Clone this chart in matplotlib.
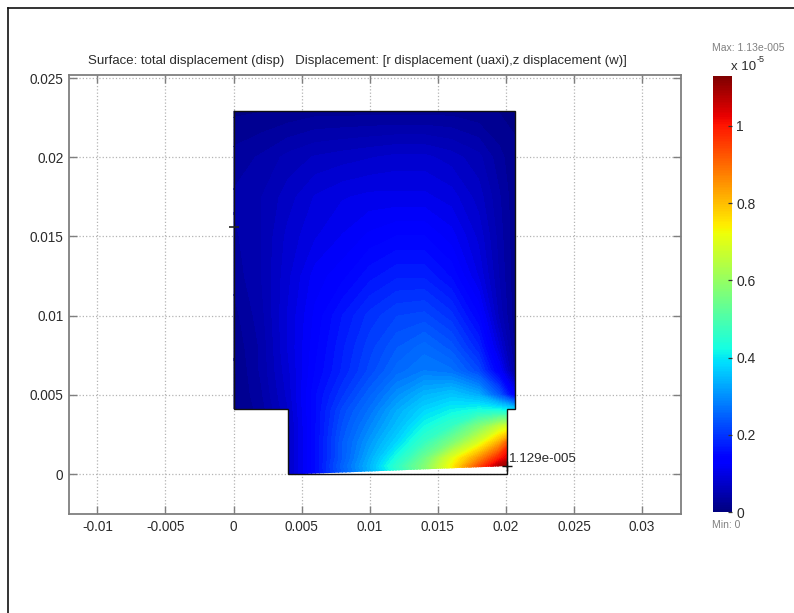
import numpy as np
import matplotlib
matplotlib.use("Agg")
import matplotlib.pyplot as plt
from matplotlib.patches import Polygon
from matplotlib.lines import Line2D

plt.rcParams['font.family'] = ['Liberation Sans', 'DejaVu Sans']

title = "Surface: total displacement (disp)   Displacement: [r displacement (uaxi),z displacement (w)]"

# Surface sample positions (metres)
r_pos = [0, .002, .004, .006, .008, .01, .012, .014, .016, .018, .0195, .0207]
z_pos = [0, .0005, .001, .002, .003, .004, .005, .0065, .008, .01, .0125, .015, .0175, .02, .0229]

disp = [
    [.01, .03, .07, .15, .24, .33, .44, .55, .71, .91, 1.07, 1.129],
    [.01, .03, .07, .15, .25, .34, .46, .57, .73, .93, 1.08, 1.129],
    [.01, .03, .07, .15, .24, .33, .43, .54, .70, .85, .99, 1.08],
    [.01, .03, .07, .15, .24, .31, .38, .47, .56, .69, .82, 1.00],
    [.01, .03, .07, .15, .23, .29, .35, .42, .47, .57, .66, .72],
    [.01, .03, .075, .15, .22, .27, .33, .38, .41, .43, .43, .40],
    [.01, .035, .08, .15, .20, .25, .30, .34, .36, .33, .24, .12],
    [.01, .04, .085, .14, .18, .22, .26, .28, .27, .22, .13, .03],
    [.015, .04, .09, .135, .175, .21, .24, .26, .235, .18, .09, .02],
    [.02, .045, .09, .13, .165, .195, .215, .22, .195, .14, .06, .015],
    [.03, .05, .085, .12, .135, .16, .175, .175, .15, .10, .05, .015],
    [.035, .05, .08, .10, .115, .13, .14, .14, .12, .085, .045, .015],
    [.04, .05, .07, .09, .10, .105, .105, .105, .095, .07, .04, .015],
    [.03, .04, .055, .065, .07, .075, .08, .08, .07, .055, .03, .015],
    [.01, .012, .015, .02, .02, .02, .02, .02, .02, .015, .012, .01],
]

# Undeformed geometry outline and deformed lower edge
outline_r = [0, .0207, .0207, .0201, .0201, .004, .004, 0, 0]
outline_z = [.0229, .0229, .0041, .0041, 0, 0, .0041, .0041, .0229]
surface_r = [0, .0207, .0207, .0201, .0201, .0052, .004, .004, 0]
surface_z = [.0229, .0229, .0041, .0041, .0005, 0, 0, .0041, .0041]

peak_r, peak_z, peak_label = .0201, .0005, "1.129e-005"
mark_r, mark_z = 0, .0156

xticks = [-.01, -.005, 0, .005, .01, .015, .02, .025, .03]
xlabels = ['-0.01', '-0.005', '0', '0.005', '0.01', '0.015', '0.02', '0.025', '0.03']
yticks = [0, .005, .01, .015, .02, .025]
ylabels = ['0', '0.005', '0.01', '0.015', '0.02', '0.025']
cticks = [0, .2, .4, .6, .8, 1]
clabels = ['0', '0.2', '0.4', '0.6', '0.8', '1']
vmin, vmax = 0, 1.129

W, H = 794, 613
def box(l, t, r, b):
    return [l / W, 1 - b / H, (r - l) / W, (b - t) / H]

grey = '#7f7f7f'
ink = '#2b2b2b'
fig = plt.figure(figsize=(7.94, 6.13), dpi=100)
ax = fig.add_axes(box(69, 75, 681, 514))

R, Z = np.meshgrid(r_pos, z_pos)
field = ax.contourf(R, Z, np.array(disp), levels=np.linspace(vmin, vmax, 90), cmap='jet',
                    vmin=vmin, vmax=vmax, zorder=3, antialiased=False)
clip = Polygon(np.column_stack([surface_r, surface_z]), closed=True,
               transform=ax.transData, fc='none', ec='none')
ax.add_patch(clip)
field.set_clip_path(clip)
ax.plot(outline_r, outline_z, color='#111111', lw=1.0, zorder=4, solid_joinstyle='miter')
ax.plot([peak_r], [peak_z], marker='+', ms=7, mew=1, color='#111111', zorder=5, ls='none')
ax.plot([mark_r], [mark_z], marker='_', ms=7, mew=1.2, color='#222222', zorder=5, ls='none')
ax.text(peak_r + .0001, peak_z + .00006, peak_label, fontsize=9.6, color=ink,
        va='bottom', ha='left', zorder=6)

ax.set_xlim(-.01208, .03286)
ax.set_ylim(-.002525, .02519)
ax.set_xticks(xticks, xlabels)
ax.set_yticks(yticks, ylabels)
ax.grid(True, ls=':', color='#b4b4b4', lw=0.9, zorder=1)
ax.set_axisbelow(True)
ax.tick_params(direction='in', length=6, width=1, color=grey, top=True, right=True,
               labelsize=9.8, labelcolor=ink, pad=4)
for s in ax.spines.values():
    s.set_color(grey)
    s.set_linewidth(1.3)
ax.set_title(title, fontsize=9.5, color=ink, pad=8, x=0.472)

cax = fig.add_axes(box(713, 76, 732, 512))
sm = plt.cm.ScalarMappable(norm=plt.Normalize(vmin, vmax), cmap='jet')
cb = fig.colorbar(sm, cax=cax)
cb.set_ticks(cticks, labels=clabels)
cb.ax.tick_params(direction='in', length=3, width=0.9, color='#333333', labelsize=10,
                  labelcolor=ink, pad=3)
cb.outline.set_visible(False)

fig.text(748 / W, 1 - 48 / H, "Max: 1.13e-005", fontsize=7.5, color='#808080', ha='center', va='center')
fig.text(712 / W, 1 - 525 / H, "Min: 0", fontsize=7.5, color='#808080', ha='left', va='center')
fig.text(731 / W, 1 - 67 / H, "x 10", fontsize=9.5, color=ink, ha='left', va='center')
fig.text(757 / W, 1 - 60 / H, "-5", fontsize=6.5, color=ink, ha='left', va='center')

fig.add_artist(Line2D([8 / W, 8 / W], [0, 1 - 8 / H], color='#111111', lw=1.2))
fig.add_artist(Line2D([8 / W, 1], [1 - 8 / H, 1 - 8 / H], color='#111111', lw=1.2))

fig.savefig('out.png', dpi=100)
